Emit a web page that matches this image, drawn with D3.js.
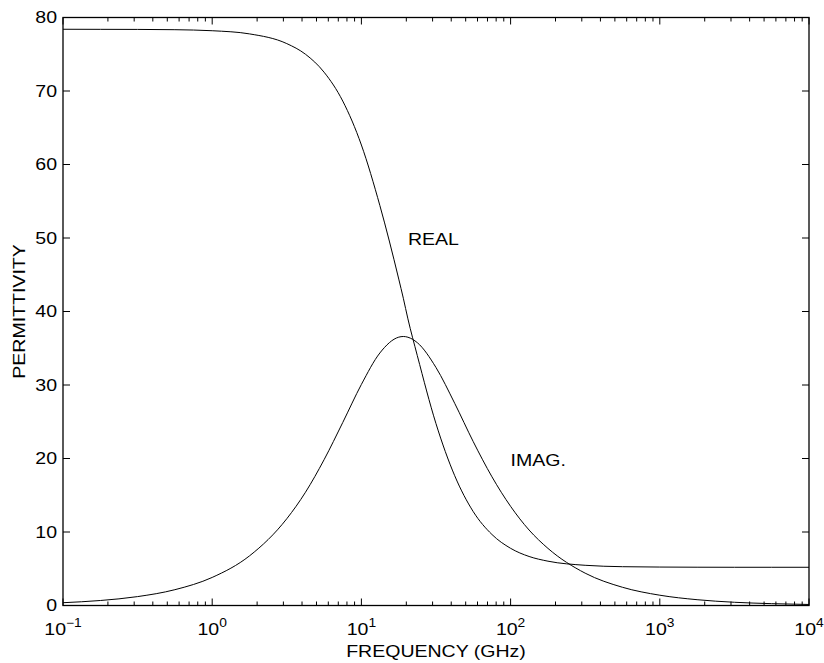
<!DOCTYPE html>
<html><head><meta charset="utf-8">
<script src="https://cdn.jsdelivr.net/npm/d3@7"></script>
<style>body{margin:0;background:#fff}svg text{font-family:"Liberation Sans",Arial,sans-serif;fill:#000}</style>
</head><body><svg id="c" width="824" height="663"></svg>
<script>
const freqGHz = [0.1,0.178,0.316,0.562,1,1.78,3.16,4.22,5.62,7.5,10,13.3,17.8,19.1,20.5,23.7,31.6,42.2,56.2,75,100,133,178,316,562,1000,1778,3162,5623,10000];
const realPerm = [78.40,78.39,78.38,78.34,78.20,77.77,76.45,75.00,72.56,68.63,62.65,54.41,44.41,41.80,39.0,34.00,24.76,17.66,12.77,9.66,7.78,6.67,6.03,5.47,5.28,5.23,5.21,5.20,5.20,5.20];
const imagPerm = [0.38,0.68,1.21,2.15,3.82,6.76,11.80,15.41,19.83,24.90,30.08,34.36,36.51,36.60,36.50,35.76,32.39,27.51,22.29,17.51,13.49,10.27,7.77,4.40,2.48,1.40,0.79,0.44,0.25,0.14];
const xTickExps = [-1,0,1,2,3,4];
const yTicks = [0,10,20,30,40,50,60,70,80];
const curveLabels = [{text:"REAL",f:20.5,v:49},{text:"IMAG.",f:100,v:19}];

const L=63,R=809,T=17.5,B=605.5,SX=1.15;
const svg=d3.select("#c");
const x=d3.scaleLog().domain([0.1,10000]).range([L,R]);
const y=d3.scaleLinear().domain([0,80]).range([B,T]);

function txt(px,py,rot){
  return svg.append("g").attr("transform",`translate(${px},${py})${rot?` rotate(${rot})`:""} scale(${SX},1)`)
    .append("text").attr("font-size",17);
}

const minor=[];
for(let e=-1;e<4;e++){for(let k=2;k<=9;k++)minor.push(k*Math.pow(10,e));}
const g=svg.append("g").attr("stroke","#000").attr("stroke-width",1);
minor.forEach(v=>{
  const px=x(v);
  g.append("line").attr("x1",px).attr("x2",px).attr("y1",B).attr("y2",B-4);
  g.append("line").attr("x1",px).attr("x2",px).attr("y1",T).attr("y2",T+4);
});
xTickExps.forEach(e=>{
  const px=x(Math.pow(10,e));
  g.append("line").attr("x1",px).attr("x2",px).attr("y1",B).attr("y2",B-7);
  g.append("line").attr("x1",px).attr("x2",px).attr("y1",T).attr("y2",T+7);
});
yTicks.forEach(v=>{
  const py=y(v);
  g.append("line").attr("x1",L).attr("x2",L+7).attr("y1",py).attr("y2",py);
  g.append("line").attr("x1",R).attr("x2",R-7).attr("y1",py).attr("y2",py);
});
svg.append("rect").attr("x",L).attr("y",T).attr("width",R-L).attr("height",B-T)
  .attr("fill","none").attr("stroke","#000").attr("stroke-width",1.3);

xTickExps.forEach(e=>{
  const t=txt(x(Math.pow(10,e)),635).attr("text-anchor","middle");
  t.append("tspan").text("10");
  t.append("tspan").attr("dy",-8).attr("font-size",12).text(e<0?"\u2212"+(-e):e);
});
yTicks.forEach(v=>{
  txt(57,y(v)).attr("dy","0.35em").attr("text-anchor","end").text(v);
});

txt((L+R)/2,657).attr("text-anchor","middle").text("FREQUENCY (GHz)");
txt(25,(T+B)/2,-90).attr("text-anchor","middle").text("PERMITTIVITY");

const line=d3.line().x(d=>x(d[0])).y(d=>y(d[1])).curve(d3.curveMonotoneX);
[realPerm,imagPerm].forEach(s=>{
  svg.append("path").attr("d",line(freqGHz.map((f,i)=>[f,s[i]])))
    .attr("fill","none").attr("stroke","#000").attr("stroke-width",1);
});
curveLabels.forEach(c=>{
  txt(x(c.f),y(c.v)).text(c.text);
});
</script></body></html>
